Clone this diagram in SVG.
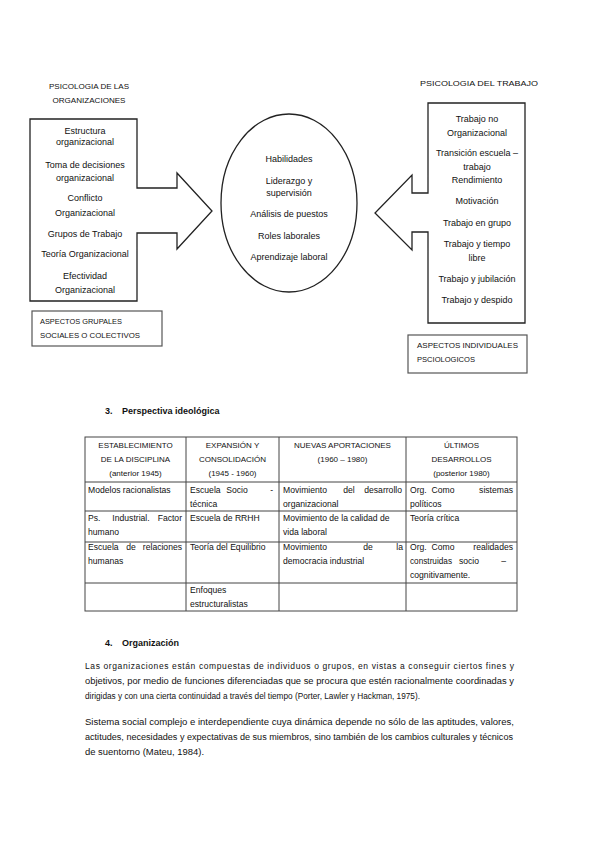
<svg xmlns="http://www.w3.org/2000/svg" width="599" height="848" viewBox="0 0 599 848">
<style>
text{font-family:"Liberation Sans",Arial,sans-serif;fill:#111;}
.d{font-size:9px;text-anchor:middle;}
.h{font-size:8px;text-anchor:middle;}
.lb{font-size:7.8px;}
.th{font-size:8px;text-anchor:middle;}
.tb{font-size:8.6px;}
.m{text-anchor:middle;}
.e{text-anchor:end;}
.p{font-size:8.5px;}
.sec{font-size:9px;font-weight:bold;}
.shape{fill:#fff;stroke:#222;stroke-width:1.3;}
.box{fill:#fff;stroke:#555;stroke-width:1.2;}
.grid{stroke:#444;stroke-width:1;fill:none;}
</style>
<rect width="599" height="848" fill="#fff"/>

<g id="heading-left">
<text class="h" x="89" y="89" textLength="80" lengthAdjust="spacingAndGlyphs">PSICOLOGIA DE LAS</text>
<text class="h" x="89" y="103" textLength="73" lengthAdjust="spacingAndGlyphs">ORGANIZACIONES</text>
</g>
<g id="heading-right">
<text class="h" x="479" y="86" textLength="118" lengthAdjust="spacingAndGlyphs">PSICOLOGIA DEL TRABAJO</text>
</g>

<g id="left-arrow">
<polygon class="shape" points="30,119 137,119 137,188 177,188 177,173 212,211 177,249 177,233 137,233 137,301 30,301"/>
<text class="d" x="85" y="134">Estructura</text>
<text class="d" x="85" y="145">organizacional</text>
<text class="d" x="85" y="168">Toma de decisiones</text>
<text class="d" x="85" y="181">organizacional</text>
<text class="d" x="85" y="201">Conflicto</text>
<text class="d" x="85" y="216">Organizacional</text>
<text class="d" x="85" y="237">Grupos de Trabajo</text>
<text class="d" x="85" y="257">Teoría Organizacional</text>
<text class="d" x="85" y="279">Efectividad</text>
<text class="d" x="85" y="293">Organizacional</text>
</g>

<g id="center-ellipse">
<ellipse class="shape" cx="289" cy="203" rx="68" ry="89"/>
<text class="d" x="289" y="162">Habilidades</text>
<text class="d" x="289" y="184">Liderazgo y</text>
<text class="d" x="289" y="196">supervisión</text>
<text class="d" x="289" y="217">Análisis de puestos</text>
<text class="d" x="289" y="239">Roles laborales</text>
<text class="d" x="289" y="260">Aprendizaje laboral</text>
</g>

<g id="right-arrow">
<polygon class="shape" points="428,103 525,103 525,323 428,323 428,232 412,232 412,250 375,213 412,175 412,193 428,193"/>
<text class="d" x="477" y="122">Trabajo no</text>
<text class="d" x="477" y="136">Organizacional</text>
<text class="d" x="477" y="156">Transición escuela –</text>
<text class="d" x="477" y="170">trabajo</text>
<text class="d" x="477" y="183">Rendimiento</text>
<text class="d" x="477" y="204">Motivación</text>
<text class="d" x="477" y="226">Trabajo en grupo</text>
<text class="d" x="477" y="247">Trabajo y tiempo</text>
<text class="d" x="477" y="261">libre</text>
<text class="d" x="477" y="282">Trabajo y jubilación</text>
<text class="d" x="477" y="303">Trabajo y despido</text>
</g>

<g id="label-left">
<rect class="box" x="32" y="311" width="130" height="35"/>
<text class="lb" x="40" y="324" textLength="82" lengthAdjust="spacingAndGlyphs">ASPECTOS GRUPALES</text>
<text class="lb" x="40" y="338" textLength="100" lengthAdjust="spacingAndGlyphs">SOCIALES O COLECTIVOS</text>
</g>
<g id="label-right">
<rect class="box" x="408" y="335" width="119" height="38"/>
<text class="lb" x="417" y="348" textLength="101" lengthAdjust="spacingAndGlyphs">ASPECTOS INDIVIDUALES</text>
<text class="lb" x="417" y="362" textLength="58" lengthAdjust="spacingAndGlyphs">PSCIOLOGICOS</text>
</g>

<g id="section-3">
<text class="sec" x="105" y="414">3.</text>
<text class="sec" x="122" y="414">Perspectiva ideológica</text>
</g>

<g id="table">
<rect class="grid" x="85" y="437" width="432" height="174"/>
<line class="grid" x1="85" y1="482" x2="517" y2="482"/>
<line class="grid" x1="85" y1="511" x2="517" y2="511"/>
<line class="grid" x1="85" y1="542" x2="517" y2="542"/>
<line class="grid" x1="85" y1="583" x2="517" y2="583"/>
<line class="grid" x1="186" y1="437" x2="186" y2="611"/>
<line class="grid" x1="279" y1="437" x2="279" y2="611"/>
<line class="grid" x1="406" y1="437" x2="406" y2="611"/>

<text class="th" x="135.5" y="448">ESTABLECIMIENTO</text>
<text class="th" x="135.5" y="462">DE LA DISCIPLINA</text>
<text class="th" x="135.5" y="476">(anterior 1945)</text>
<text class="th" x="232.5" y="448">EXPANSIÓN Y</text>
<text class="th" x="232.5" y="462">CONSOLIDACIÓN</text>
<text class="th" x="232.5" y="476">(1945 - 1960)</text>
<text class="th" x="342.5" y="448">NUEVAS APORTACIONES</text>
<text class="th" x="342.5" y="462">(1960 – 1980)</text>
<text class="th" x="461.5" y="448">ÚLTIMOS</text>
<text class="th" x="461.5" y="462">DESARROLLOS</text>
<text class="th" x="461.5" y="476">(posterior 1980)</text>

<text class="tb" x="88" y="493">Modelos racionalistas</text>
<text class="tb" x="190" y="493">Escuela</text>
<text class="tb m" x="237" y="493">Socio</text>
<text class="tb e" x="273" y="493">-</text>
<text class="tb" x="190" y="507">técnica</text>
<text class="tb" x="283" y="493">Movimiento</text>
<text class="tb m" x="349" y="493">del</text>
<text class="tb e" x="402" y="493">desarrollo</text>
<text class="tb" x="283" y="507">organizacional</text>
<text class="tb" x="410" y="493">Org.</text>
<text class="tb m" x="443" y="493">Como</text>
<text class="tb e" x="513" y="493">sistemas</text>
<text class="tb" x="410" y="507">políticos</text>

<text class="tb" x="88" y="521">Ps.</text>
<text class="tb m" x="131" y="521">Industrial.</text>
<text class="tb e" x="182" y="521">Factor</text>
<text class="tb" x="88" y="535">humano</text>
<text class="tb" x="190" y="521">Escuela de RRHH</text>
<text class="tb" x="283" y="521">Movimiento de la calidad de</text>
<text class="tb" x="283" y="535">vida laboral</text>
<text class="tb" x="410" y="521">Teoría crítica</text>

<text class="tb" x="88" y="550">Escuela</text>
<text class="tb m" x="131" y="550">de</text>
<text class="tb e" x="182" y="550">relaciones</text>
<text class="tb" x="88" y="564">humanas</text>
<text class="tb" x="190" y="550">Teoría del Equilibrio</text>
<text class="tb" x="283" y="550">Movimiento</text>
<text class="tb m" x="368" y="550">de</text>
<text class="tb e" x="403" y="550">la</text>
<text class="tb" x="283" y="564">democracia industrial</text>
<text class="tb" x="410" y="550">Org.</text>
<text class="tb m" x="443" y="550">Como</text>
<text class="tb e" x="513" y="550">realidades</text>
<text class="tb" x="410" y="564" textLength="42" lengthAdjust="spacingAndGlyphs">construidas</text>
<text class="tb m" x="469" y="564">socio</text>
<text class="tb e" x="506" y="564">–</text>
<text class="tb" x="410" y="578">cognitivamente.</text>

<text class="tb" x="190" y="593">Enfoques</text>
<text class="tb" x="190" y="607">estructuralistas</text>
</g>

<g id="section-4">
<text class="sec" x="105" y="646">4.</text>
<text class="sec" x="122" y="646">Organización</text>
<text class="p" x="85" y="669" textLength="429" lengthAdjust="spacing">Las organizaciones están compuestas de individuos o grupos, en vistas a conseguir ciertos fines y</text>
<text class="p" x="85" y="684" textLength="429" lengthAdjust="spacingAndGlyphs">objetivos, por medio de funciones diferenciadas que se procura que estén racionalmente coordinadas y</text>
<text class="p" x="85" y="699" textLength="335" lengthAdjust="spacingAndGlyphs">dirigidas y con una cierta continuidad a través del tiempo (Porter, Lawler y Hackman, 1975).</text>
<text class="p" x="85" y="725" textLength="429" lengthAdjust="spacingAndGlyphs">Sistema social complejo e interdependiente cuya dinámica depende no sólo de las aptitudes, valores,</text>
<text class="p" x="85" y="740" textLength="428" lengthAdjust="spacingAndGlyphs">actitudes, necesidades y expectativas de sus miembros, sino también de los cambios culturales y técnicos</text>
<text class="p" x="85" y="755" textLength="119" lengthAdjust="spacingAndGlyphs">de suentorno (Mateu, 1984).</text>
</g>
</svg>
